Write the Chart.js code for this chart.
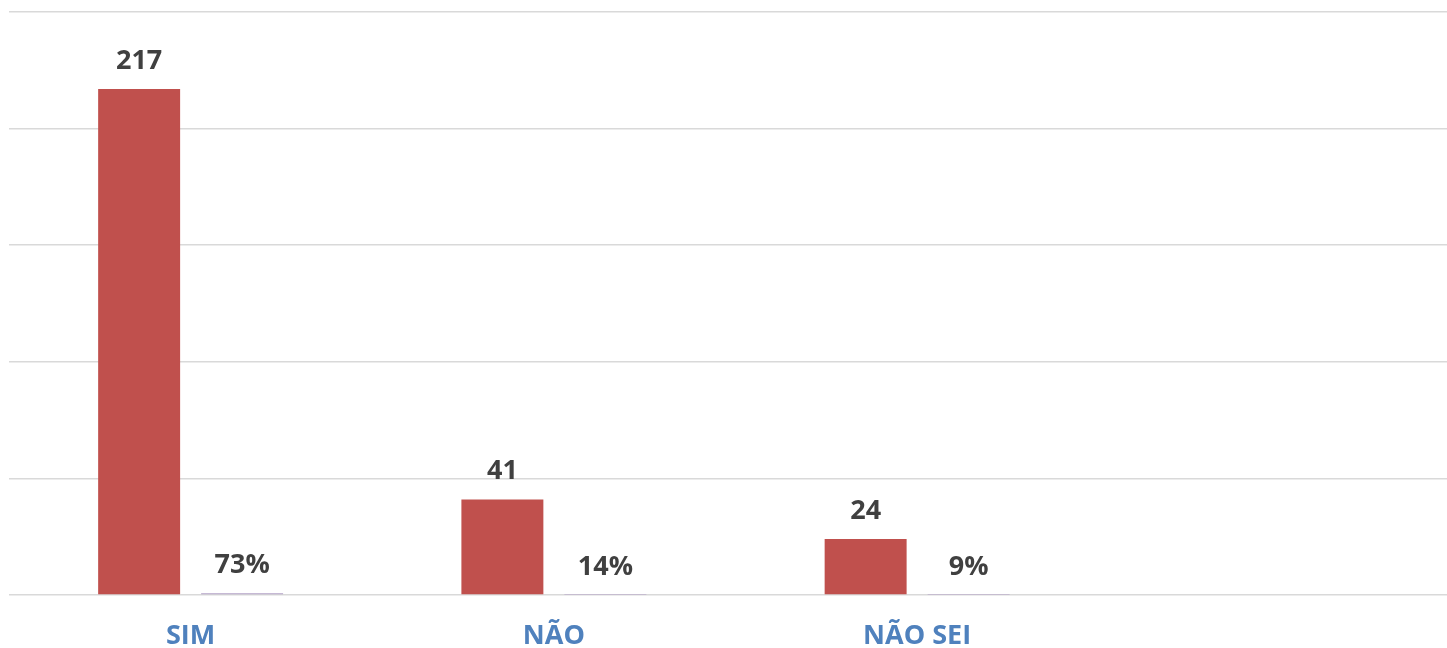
<!DOCTYPE html>
<html>
<head>
<meta charset="utf-8">
<script src="https://cdn.jsdelivr.net/npm/chart.js@4.4.1/dist/chart.umd.min.js"></script>
<style>
  html, body { margin: 0; padding: 0; background: #fff; overflow: hidden; }
</style>
</head>
<body>
<canvas id="myChart" width="1462" height="648"></canvas>
<script>
// categories (4th slot is left empty in the original)
const categories = ['SIM', 'NÃO', 'NÃO SEI', ''];
const respostas = [217, 41, 24, null];
const percentuais = [0.73, 0.14, 0.09, null];

// y axis ticks (hidden, only the gridlines show)
const yMin = 0;
const yMax = 250;
const yStep = 50;

// draws the value labels over each bar
const valueLabels = {
    id: 'valueLabels',
    afterDatasetsDraw(chart) {
        const ctx = chart.ctx;
        ctx.save();
        ctx.font = 'bold 27px "Open Sans"';
        ctx.fillStyle = '#404040';
        ctx.textAlign = 'center';
        ctx.textBaseline = 'alphabetic';
        chart.data.datasets.forEach((ds, i) => {
            const meta = chart.getDatasetMeta(i);
            meta.data.forEach((bar, j) => {
                const v = ds.data[j];
                if (v === null || v === undefined) return;
                const txt = i === 1 ? Math.round(v * 100) + '%' : String(v);
                ctx.fillText(txt, bar.x, bar.y - 20);
            });
        });
        ctx.restore();
    }
};

function renderChart(labels, counts, pcts) {
    const ctx = document.getElementById('myChart').getContext('2d');
    new Chart(ctx, {
        type: 'bar',
        data: {
            labels: labels,
            datasets: [{
                label: 'Respostas',
                backgroundColor: '#C0504D',
                data: counts,
                categoryPercentage: 0.567,
                barPercentage: 0.796
            },
            {
                label: 'Percentual',
                backgroundColor: '#B3A2C7',
                data: pcts,
                categoryPercentage: 0.567,
                barPercentage: 0.796
            }]
        },
        options: {
            responsive: false,
            animation: false,
            devicePixelRatio: 1,
            layout: {
                padding: { left: 9, right: 0, top: 12, bottom: 0 }
            },
            plugins: {
                legend: { display: false },
                tooltip: { enabled: false }
            },
            scales: {
                x: {
                    grid: { display: false, drawTicks: false },
                    border: { display: false },
                    ticks: {
                        color: '#4F81BD',
                        font: { family: '"Open Sans"', size: 27, weight: 'bold' },
                        padding: 25,
                        maxRotation: 0
                    },
                    afterFit(scale) { scale.height = 53; }
                },
                y: {
                    min: yMin,
                    max: yMax,
                    ticks: { stepSize: yStep, display: false },
                    grid: { color: '#D9D9D9', lineWidth: 1.5, drawTicks: false },
                    border: { display: false }
                }
            }
        },
        plugins: [valueLabels]
    });
}

renderChart(categories, respostas, percentuais);
</script>
</body>
</html>
